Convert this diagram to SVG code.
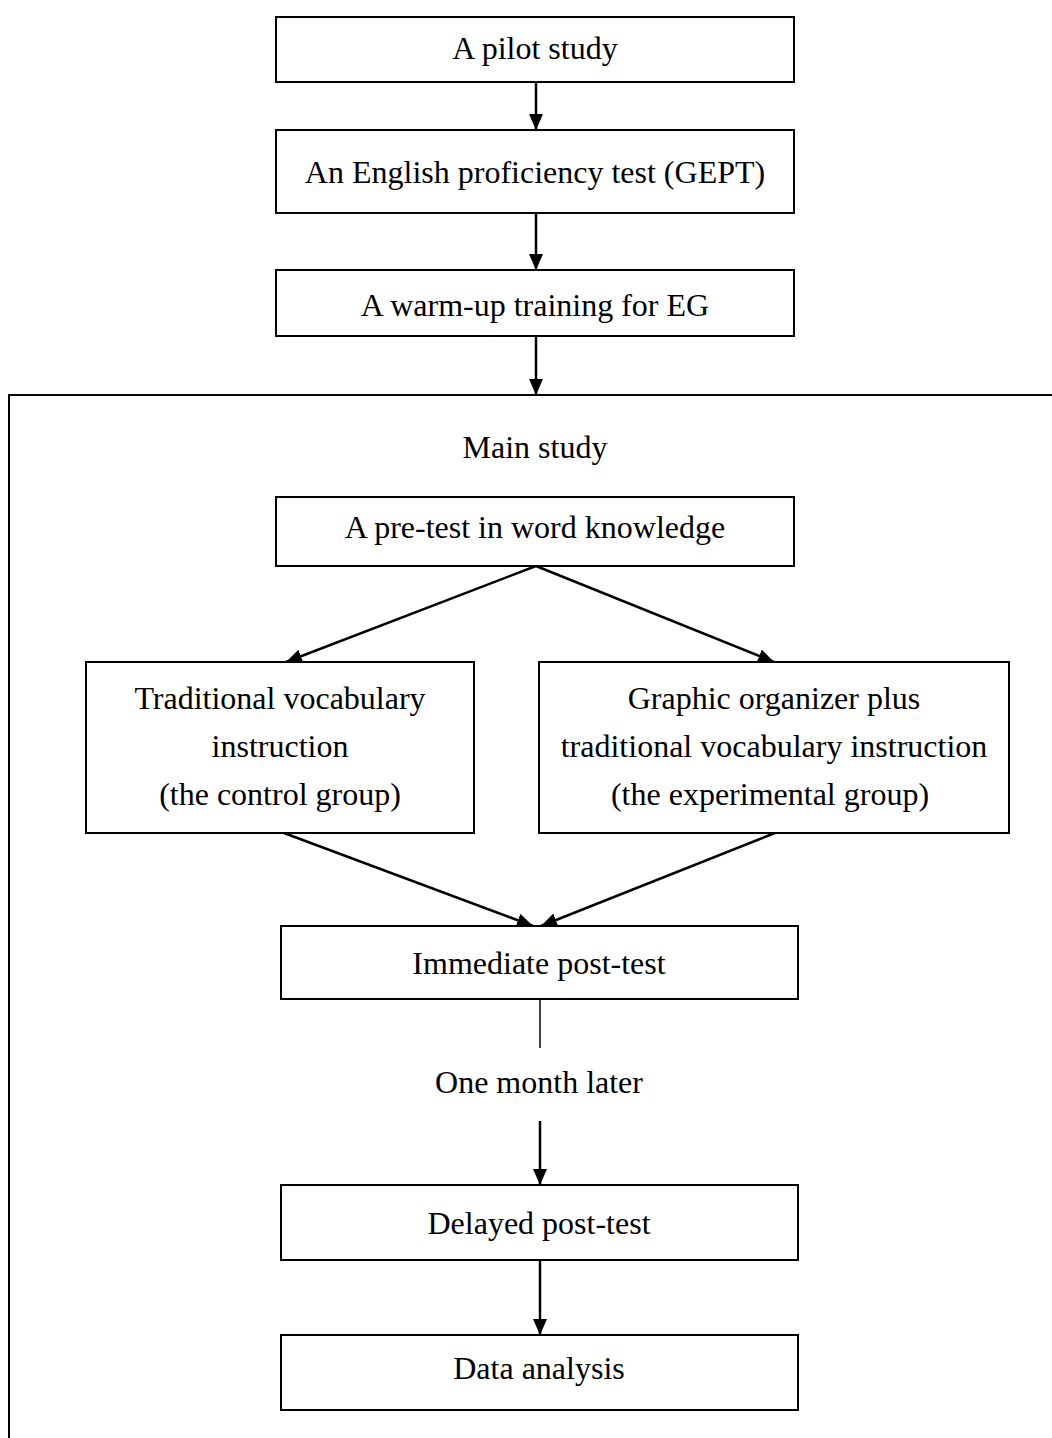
<svg xmlns="http://www.w3.org/2000/svg" width="1052" height="1438" viewBox="0 0 1052 1438">
<style>
.box{fill:#fff;stroke:#000;stroke-width:2}
.frame{fill:none;stroke:#000;stroke-width:2}
.t{font-family:"Liberation Serif","Times New Roman",serif;font-size:32px;fill:#000;text-anchor:middle}
.c{stroke:#000;stroke-width:2.5;fill:none}
</style>
<defs>
<marker id="ah" viewBox="0 0 16 14" refX="16" refY="7" markerWidth="16" markerHeight="14" markerUnits="userSpaceOnUse" orient="auto">
<path d="M0,0 L16,7 L0,14 z" fill="#000"/>
</marker>
</defs>
<rect width="1052" height="1438" fill="#fff"/>
<g id="main-frame">
<rect class="frame" x="9" y="395" width="1100" height="1100"/>
<text class="t" x="535" y="458">Main study</text>
</g>
<g id="connectors">
<line class="c" x1="536" y1="82" x2="536" y2="130" marker-end="url(#ah)"/>
<line class="c" x1="536" y1="213" x2="536" y2="270" marker-end="url(#ah)"/>
<line class="c" x1="536" y1="336" x2="536" y2="395" marker-end="url(#ah)"/>
<line class="c" x1="536" y1="566" x2="286" y2="662" marker-end="url(#ah)"/>
<line class="c" x1="536" y1="566" x2="774" y2="662" marker-end="url(#ah)"/>
<line class="c" x1="284" y1="833" x2="533" y2="926" marker-end="url(#ah)"/>
<line class="c" x1="775" y1="833" x2="541" y2="926" marker-end="url(#ah)"/>
<line class="c" x1="540" y1="999" x2="540" y2="1048" style="stroke-width:1.5"/>
<line class="c" x1="540" y1="1121" x2="540" y2="1185" marker-end="url(#ah)"/>
<line class="c" x1="540" y1="1260" x2="540" y2="1335" marker-end="url(#ah)"/>
</g>
<g id="n-pilot">
<rect class="box" x="276" y="17" width="518" height="65"/>
<text class="t" x="535" y="59">A pilot study</text>
</g>
<g id="n-gept">
<rect class="box" x="276" y="130" width="518" height="83"/>
<text class="t" x="535" y="183">An English proficiency test (GEPT)</text>
</g>
<g id="n-warmup">
<rect class="box" x="276" y="270" width="518" height="66"/>
<text class="t" x="535" y="316">A warm-up training for EG</text>
</g>
<g id="n-pretest">
<rect class="box" x="276" y="497" width="518" height="69"/>
<text class="t" x="535" y="538">A pre-test in word knowledge</text>
</g>
<g id="n-control">
<rect class="box" x="86" y="662" width="388" height="171"/>
<text class="t" x="280" y="709">Traditional vocabulary</text>
<text class="t" x="280" y="757">instruction</text>
<text class="t" x="280" y="805">(the control group)</text>
</g>
<g id="n-experimental">
<rect class="box" x="539" y="662" width="470" height="171"/>
<text class="t" x="774" y="709">Graphic organizer plus</text>
<text class="t" x="774" y="757">traditional vocabulary instruction</text>
<text class="t" x="770" y="805">(the experimental group)</text>
</g>
<g id="n-immediate">
<rect class="box" x="281" y="926" width="517" height="73"/>
<text class="t" x="539" y="974">Immediate post-test</text>
</g>
<g id="l-month">
<text class="t" x="539" y="1093">One month later</text>
</g>
<g id="n-delayed">
<rect class="box" x="281" y="1185" width="517" height="75"/>
<text class="t" x="539" y="1234">Delayed post-test</text>
</g>
<g id="n-data">
<rect class="box" x="281" y="1335" width="517" height="75"/>
<text class="t" x="539" y="1379">Data analysis</text>
</g>
</svg>
